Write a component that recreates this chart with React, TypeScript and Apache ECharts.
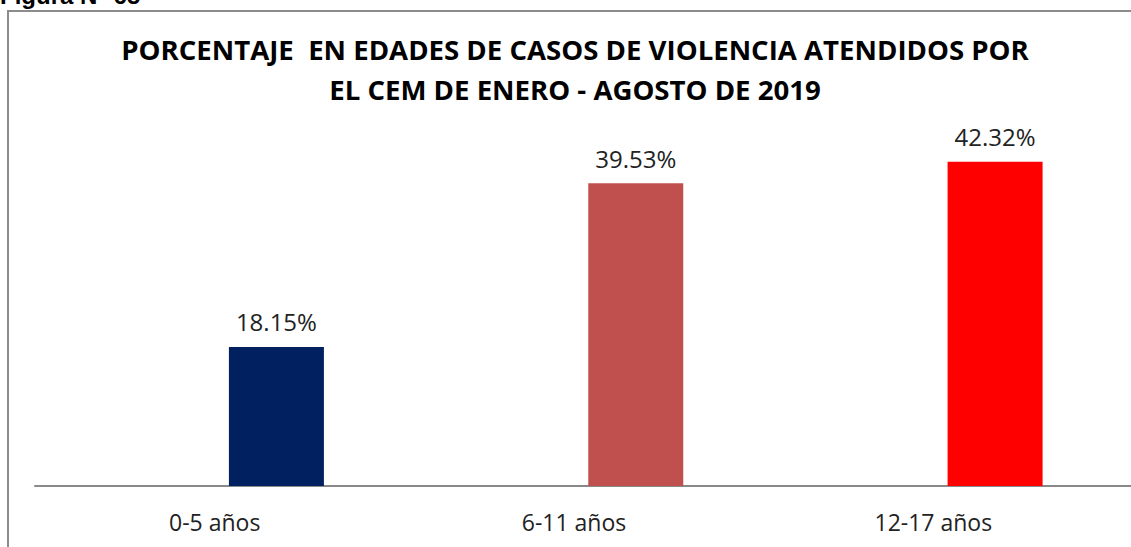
import React, { useEffect, useRef } from "react";
import * as echarts from "echarts";

const categories = ["0-5 años", "6-11 años", "12-17 años"];
const values = [18.15, 39.53, 42.32];
const barColors = ["#002060", "#C0504D", "#FF0000"];
const titleLines = [
  "PORCENTAJE  EN EDADES DE CASOS DE VIOLENCIA ATENDIDOS POR",
  "EL CEM DE ENERO - AGOSTO DE 2019",
];
const figureLabel = "Figura N° 65";

export default function App() {
  const ref = useRef<HTMLDivElement>(null);
  useEffect(() => {
    if (!ref.current) return;
    const chart = echarts.init(ref.current, null, { renderer: "svg" });
    chart.setOption({
      animation: false,
      backgroundColor: "#ffffff",
      title: {
        text: titleLines.join("\n"),
        left: 570,
        top: 24,
        textAlign: "center",
        textStyle: {
          fontFamily: "Open Sans",
          fontWeight: "bold",
          fontSize: 27.6,
          lineHeight: 40,
          color: "#000000",
        },
      },
      grid: { left: 35, right: 18, top: 103, bottom: 61, containLabel: false },
      xAxis: {
        type: "category",
        data: categories,
        axisLine: { show: true, lineStyle: { color: "#898989", width: 2 } },
        axisTick: { show: false },
        axisLabel: {
          margin: 24,
          fontFamily: "Open Sans",
          fontSize: 23,
          color: "#222222",
        },
      },
      yAxis: {
        type: "value",
        min: 0,
        max: 50,
        show: false,
        splitLine: { show: false },
      },
      series: [
        {
          type: "bar",
          data: categories.map(() => null),
          barWidth: 95,
          barGap: "30%",
          silent: true,
        },
        {
          type: "bar",
          barWidth: 95,
          barGap: "30%",
          data: values.map((v, i) => ({ value: v, itemStyle: { color: barColors[i] } })),
          label: {
            show: true,
            position: "top",
            distance: 13,
            formatter: (p: any) => p.value.toFixed(2) + "%",
            fontFamily: "Open Sans",
            fontSize: 24,
            color: "#222222",
          },
        },
      ],
      graphic: [
        {
          type: "rect",
          shape: { x: 8, y: 11, width: 1300, height: 700 },
          style: { fill: "none", stroke: "#8c8c8c", lineWidth: 2 },
          silent: true,
        },
        {
          type: "line",
          shape: { x1: 1112, y1: 486, x2: 1131, y2: 486 },
          style: { stroke: "#898989", lineWidth: 2 },
          silent: true,
        },
        {
          type: "text",
          x: 0,
          y: -4.5,
          style: {
            text: figureLabel,
            font: "bold 24px 'Liberation Sans', Arial",
            fill: "#000000",
            textVerticalAlign: "middle",
          },
        },
      ],
    });
    return () => chart.dispose();
  }, []);
  return (
    <div
      ref={ref}
      style={{ position: "fixed", left: 0, top: 0, width: 1131, height: 547 }}
    />
  );
}
